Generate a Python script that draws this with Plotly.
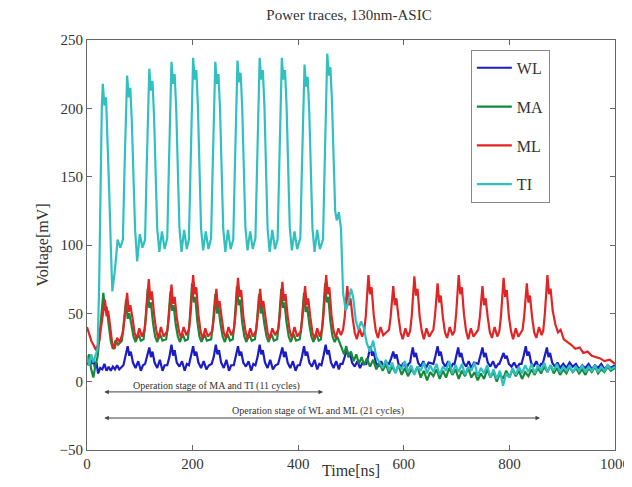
import plotly.graph_objects as go

# ---------------- data ----------------
# Time [ns], Voltage [mV] vertices of each trace
WL_pts = [(0,16),(3,12),(6,18),(9,13),(12,17),(15,10),(18,14),(21,6),(25,10),(29,9),(33,13),(37,8),(41,11),(45,8),(49,11),(53,9),(57,12),(61,9),
 (69,12),(73,18),(77,26),(80,19),(83,22),(87,14),(92,10),(97,15),(102,8),(106,12),
 (110,13),(114,19),(118,25),(121,18),(124,22),(128,14),(133,10),(138,16),(143,8),(147,12),
 (152,12),(156,18),(160,27),(163,19),(166,23),(170,14),(175,11),(180,15),(185,8),(189,13),
 (193,12),(197,19),(201,26),(204,19),(207,22),(211,14),(216,10),(221,15),(226,9),(231,12),
 (236,13),(240,18),(244,27),(247,20),(250,23),(254,14),(259,10),(264,16),(269,8),(273,12),
 (278,12),(282,19),(286,26),(289,19),(292,22),(296,14),(301,11),(306,15),(311,8),(315,13),
 (319,12),(323,18),(327,27),(330,20),(333,23),(337,14),(342,10),(347,16),(352,9),(357,12),
 (362,13),(366,19),(370,25),(373,18),(376,22),(380,14),(385,10),(390,15),(395,8),(399,12),
 (403,12),(407,18),(411,26),(414,19),(417,22),(421,14),(426,11),(431,16),(436,9),(440,13),
 (444,12),(448,19),(452,27),(455,20),(458,23),(462,14),(467,10),(472,15),(477,9),(480,13),
 (484,13),(488,18),(492,24),(495,18),(498,21),(502,14),(507,11),(512,15),(517,10),(522,14),
 (529,13),(533,19),(537,26),(540,19),(543,22),(547,14),(552,11),(557,15),(562,10),(567,14),
 (572,13),(576,17),(580,22),(583,17),(586,20),(590,13),(595,11),(600,14),(605,10),(609,13),
 (612,14),(614,19),(617,25),(620,18),(623,21),(627,14),(632,11),(637,15),(642,10),(647,14),
 (656,13),(660,19),(664,26),(667,19),(670,22),(674,14),(679,11),(684,15),(689,10),(693,13),
 (696,13),(699,18),(703,25),(706,18),(709,21),(713,14),(718,11),(723,15),(728,10),(733,14),
 (741,13),(745,19),(749,25),(752,18),(755,21),(759,14),(764,11),(769,15),(774,10),(779,13),
 (781,13),(785,17),(789,21),(792,17),(795,19),(799,13),(804,11),(809,14),(814,10),(819,13),
 (823,13),(827,19),(831,26),(834,19),(837,22),(841,14),(846,11),(851,15),(856,10),(860,13),
 (863,13),(867,19),(871,25),(874,18),(877,21),(881,14),(886,11),(891,14),(896,10),
 (902,13),(908,10),(914,14),(920,11),(926,13),(932,9),(938,12),(944,10),(950,13),(956,9),(962,12),(968,10),(974,13),(980,9),(986,12),(992,10),(1000,12)]

MA_pts = [(0,14),(4,20),(8,9),(12,3),(16,12),(20,18),
 (23,30),(26,42),(29,57),(31,65),(34,52),(37,55),(41,42),(45,30),(49,24),(54,30),(59,27),
 (66,30),(69,40),(72,52),(74,60),(77,46),(80,50),(84,42),(88,33),(92,29),(97,35),(102,30),
 (107,31),(110,41),(113,60),(115,68),(118,54),(121,58),(125,43),(129,33),(133,29),(138,35),(143,30),
 (150,31),(153,40),(156,58),(158,66),(161,52),(164,56),(168,42),(172,33),(176,29),(181,35),(186,30),
 (191,31),(194,42),(197,64),(199,72),(202,58),(205,62),(209,44),(213,33),(217,29),(222,35),(227,30),
 (235,31),(238,40),(241,56),(243,64),(246,50),(249,54),(253,42),(257,33),(261,29),(266,35),(271,30),
 (276,31),(279,41),(282,62),(284,70),(287,56),(290,60),(294,43),(298,33),(302,29),(307,35),(312,30),
 (318,31),(321,40),(324,56),(326,64),(329,50),(332,54),(336,42),(340,33),(344,29),(349,35),(354,30),
 (360,31),(363,41),(366,60),(368,68),(371,54),(374,58),(378,43),(382,33),(386,29),(391,35),(396,30),
 (403,31),(406,40),(409,57),(411,65),(414,51),(417,55),(421,42),(425,33),(429,29),(434,35),(439,30),
 (443,31),(446,42),(449,64),(451,72),(454,58),(457,62),(461,44),(465,33),(469,29),(474,33),(479,28),
 (483,24),(487,20),(491,26),(495,18),(500,22),(505,15),(510,20),(515,13),(520,18),(525,12),(530,17),(536,11),
 (542,16),(548,9),(554,14),(560,8),(566,13),(572,6),(578,11),(584,7),(590,12),(596,5),(602,10),(608,4),
 (614,9),(620,6),(626,11),(632,3),(638,8),(644,1),(650,7),(656,4),(662,9),(668,2),(674,8),(680,3),
 (686,10),(692,5),(698,9),(704,2),(710,8),(716,4),(722,10),(728,3),(734,7),(740,1),(746,6),(752,2),
 (758,9),(764,3),(770,7),(776,0),(782,6),(788,2),(794,8),(800,3),(806,9),(812,4),(818,8),(824,2),
 (830,7),(836,4),(842,9),(848,5),(854,10),(860,6),(866,11),(872,7),(878,12),(884,6),(890,10),(896,5),
 (902,9),(908,6),(914,11),(920,7),(926,10),(932,6),(938,9),(944,5),(950,10),(956,7),(962,11),(968,6),
 (974,9),(980,7),(986,11),(992,8),(1000,10)]

ML_pts = [(0,40),(4,34),(8,30),(12,27),(16,24),(20,26),(24,31),
 (26,38),(29,47),(32,54),(34,60),(37,48),(40,52),(44,40),(48,27),(52,24),(57,32),(62,29),
 (68,36),(71,46),(74,57),(76,65),(79,51),(82,56),(86,47),(90,36),(94,31),(99,39),(104,33),
 (109,38),(112,49),(115,66),(117,75),(120,60),(123,66),(127,49),(131,38),(135,31),(140,40),(145,33),
 (152,37),(155,47),(158,63),(160,71),(163,57),(166,62),(170,47),(174,37),(178,32),(183,40),(188,34),
 (193,38),(196,49),(199,70),(201,78),(204,64),(207,69),(211,49),(215,37),(219,31),(224,39),(229,33),
 (237,37),(240,46),(243,60),(245,68),(248,54),(251,59),(255,47),(259,36),(263,32),(268,40),(273,34),
 (278,38),(281,48),(284,68),(286,76),(289,62),(292,67),(296,48),(300,37),(304,31),(309,39),(314,33),
 (320,37),(323,47),(326,60),(328,68),(331,54),(334,59),(338,47),(342,36),(346,31),(351,39),(356,34),
 (362,38),(365,48),(368,65),(370,73),(373,59),(376,64),(380,48),(384,37),(388,32),(393,40),(398,33),
 (405,37),(408,47),(411,62),(413,70),(416,56),(419,61),(423,47),(427,36),(431,31),(436,39),(441,33),
 (445,38),(448,49),(451,70),(453,78),(456,64),(459,69),(463,49),(467,37),(471,32),(476,39),(481,34),
 (485,38),(488,47),(491,62),(493,70),(496,56),(499,61),(503,47),(507,36),(511,31),(516,39),(521,33),
 (525,37),(528,48),(531,70),(533,78),(536,64),(539,69),(543,49),(547,37),(551,32),(556,40),(561,34),(566,36),
 (572,38),(575,47),(578,62),(580,70),(583,56),(586,61),(590,47),(594,36),(598,31),(603,39),(608,33),
 (612,37),(615,48),(618,69),(620,77),(623,63),(626,68),(630,48),(634,37),(638,31),(643,39),(648,33),(653,36),
 (656,38),(659,48),(662,64),(664,72),(667,58),(670,63),(674,47),(678,36),(682,32),(687,40),(692,34),
 (696,37),(699,49),(702,70),(704,78),(707,64),(710,69),(714,49),(718,37),(722,31),(727,39),(732,33),(737,36),
 (741,38),(744,47),(747,62),(749,70),(752,56),(755,61),(759,47),(763,36),(767,32),(772,40),(777,33),
 (781,37),(784,48),(787,68),(789,76),(792,62),(795,67),(799,48),(803,37),(807,31),(812,39),(817,33),(822,36),
 (825,38),(828,48),(831,64),(833,72),(836,58),(839,63),(843,47),(847,36),(851,32),(856,40),(861,34),
 (864,37),(867,49),(870,70),(872,78),(875,64),(878,68),(882,52),(887,42),(892,36),(897,38),(903,31),
 (910,29),(917,27),(925,24),(933,25),(940,21),(948,22),(956,19),(964,18),(972,17),(980,15),(990,16),(1000,13)]

TI_pts = [(0,18),(4,12),(8,20),(12,14),(16,19),(20,24),(23,70),(26,150),(28,200),(30,218),(33,202),(36,208),
 (39,180),(42,140),(45,100),(48,66),(53,82),(58,104),(63,98),
 (68,104),(71,155),(74,208),(76,224),(79,208),(82,215),(85,189),(88,150),(91,112),(95,88),(100,108),(105,98),
 (110,104),(113,156),(116,210),(118,229),(121,213),(124,220),(127,194),(130,150),(133,112),(137,95),(142,110),(147,97),
 (152,105),(155,156),(158,212),(160,234),(163,218),(166,225),(169,199),(172,152),(175,113),(179,95),(184,111),(189,97),
 (193,104),(196,155),(199,212),(201,237),(204,221),(207,228),(210,202),(213,151),(216,112),(220,96),(225,110),(230,97),
 (235,105),(238,156),(241,212),(243,234),(246,218),(249,225),(252,199),(255,152),(258,112),(262,95),(267,111),(272,97),
 (277,104),(280,155),(283,212),(285,235),(288,219),(291,226),(294,200),(297,151),(300,113),(304,96),(309,110),(314,97),
 (319,105),(322,156),(325,212),(327,237),(330,221),(333,228),(336,202),(339,152),(342,112),(346,95),(351,111),(356,97),
 (361,104),(364,155),(367,212),(369,237),(372,221),(375,228),(378,202),(381,151),(384,113),(388,96),(393,110),(398,97),
 (404,105),(407,156),(410,210),(412,232),(415,216),(418,223),(421,197),(424,152),(427,112),(431,95),(436,111),(441,97),
 (447,104),(450,156),(453,214),(455,240),(458,224),(461,230),(464,205),(467,160),(470,125),(473,118),(477,124),(481,112),
 (485,65),(490,52),(495,58),(500,68),(504,62),(509,45),(514,38),(519,44),(524,40),(530,28),(536,22),(542,30),
 (548,18),(554,14),(560,10),(566,16),(572,8),(578,14),(584,6),(590,12),(596,9),(602,15),(608,7),(614,12),
 (620,5),(626,11),(632,8),(638,14),(644,6),(650,12),(656,7),(662,13),(668,5),(674,11),(680,8),(686,15),
 (692,6),(698,12),(704,7),(710,13),(716,5),(722,11),(728,8),(734,14),(740,4),(746,10),(752,6),(758,12),
 (764,3),(770,9),(776,2),(782,8),(788,-3),(794,6),(800,3),(806,10),(812,5),(818,11),(824,6),(830,12),
 (836,7),(842,13),(848,6),(854,12),(860,8),(866,14),(872,7),(878,12),(884,8),(890,13),(896,7),(902,11),
 (908,8),(914,12),(920,7),(926,11),(932,8),(938,12),(944,7),(950,11),(956,8),(962,12),(968,7),(974,11),
 (980,8),(986,12),(992,9),(1000,11)]

series_names = ["WL", "MA", "ML", "TI"]
series_pts = [WL_pts, MA_pts, ML_pts, TI_pts]
series_colors = ["#1c1cc4", "#168a3a", "#e22424", "#30c0c0"]

x_ticks = [0, 200, 400, 600, 800, 1000]
y_ticks = [-50, 0, 50, 100, 150, 200, 250]

# operation-stage annotations: (start ns, end ns, arrow level mV, label, label x, label y)
stages = [
    (30, 447, -7.5, "Operation stage of MA and TI (11 cycles)", 246, -3),
    (30, 858, -26.6, "Operation stage of WL and ML (21 cycles)", 438, -21.5),
]

SERIF = "Liberation Serif, Times New Roman, serif"

fig = go.Figure()
for name, pts, col in zip(series_names, series_pts, series_colors):
    fig.add_trace(go.Scatter(
        x=[p[0] for p in pts], y=[p[1] for p in pts], mode="lines", name=name,
        line=dict(color=col, width=2.2), legendgroup=name,
    ))

for (x0, x1, lvl, label, lx, ly) in stages:
    fig.add_annotation(x=x1, y=lvl, ax=x0, ay=lvl, xref="x", yref="y", axref="x", ayref="y",
                       text="", showarrow=True, arrowhead=2, startarrowhead=2, arrowside="end+start",
                       arrowsize=0.9, startarrowsize=0.9, arrowwidth=1, arrowcolor="#444")
    fig.add_annotation(x=lx, y=ly, xref="x", yref="y", text=label, showarrow=False,
                       font=dict(family=SERIF, size=10, color="#333"))

# x-axis title placed just under the tick labels (as in the reference)
fig.add_annotation(x=0.5, y=-20/410, xref="paper", yref="paper", text="Time[ns]", showarrow=False,
                   xanchor="center", yanchor="middle", font=dict(family=SERIF, size=16, color="#333"))

axis_common = dict(showline=True, linecolor="#666", linewidth=1, mirror="ticks", ticks="inside",
                   ticklen=5, tickcolor="#666", showgrid=False, zeroline=False,
                   tickfont=dict(family=SERIF, size=15, color="#333"))

fig.update_xaxes(range=[0, 1000], tickvals=x_ticks, **axis_common)
fig.update_yaxes(range=[-50, 250], tickvals=y_ticks,
                 title=dict(text="Voltage[mV]", font=dict(family=SERIF, size=16, color="#333"), standoff=6),
                 **axis_common)

# page body has an 8px margin, so the figure is 8px smaller than the window
fig.update_layout(
    width=624, height=479,
    margin=dict(l=79, r=17, t=32, b=37, autoexpand=False),
    paper_bgcolor="white", plot_bgcolor="white",
    font=dict(family=SERIF, color="#333"),
    title=dict(text="Power traces, 130nm-ASIC", x=341/624, xanchor="center", y=1, yanchor="top",
               pad=dict(t=1), font=dict(family=SERIF, size=15, color="#333")),
    legend=dict(x=0.727, y=0.976, xanchor="left", yanchor="top", bordercolor="#888", borderwidth=1,
                bgcolor="white", font=dict(family=SERIF, size=16, color="#333"),
                tracegroupgap=15, itemwidth=35),
    showlegend=True,
)

fig.write_html("out.html")
